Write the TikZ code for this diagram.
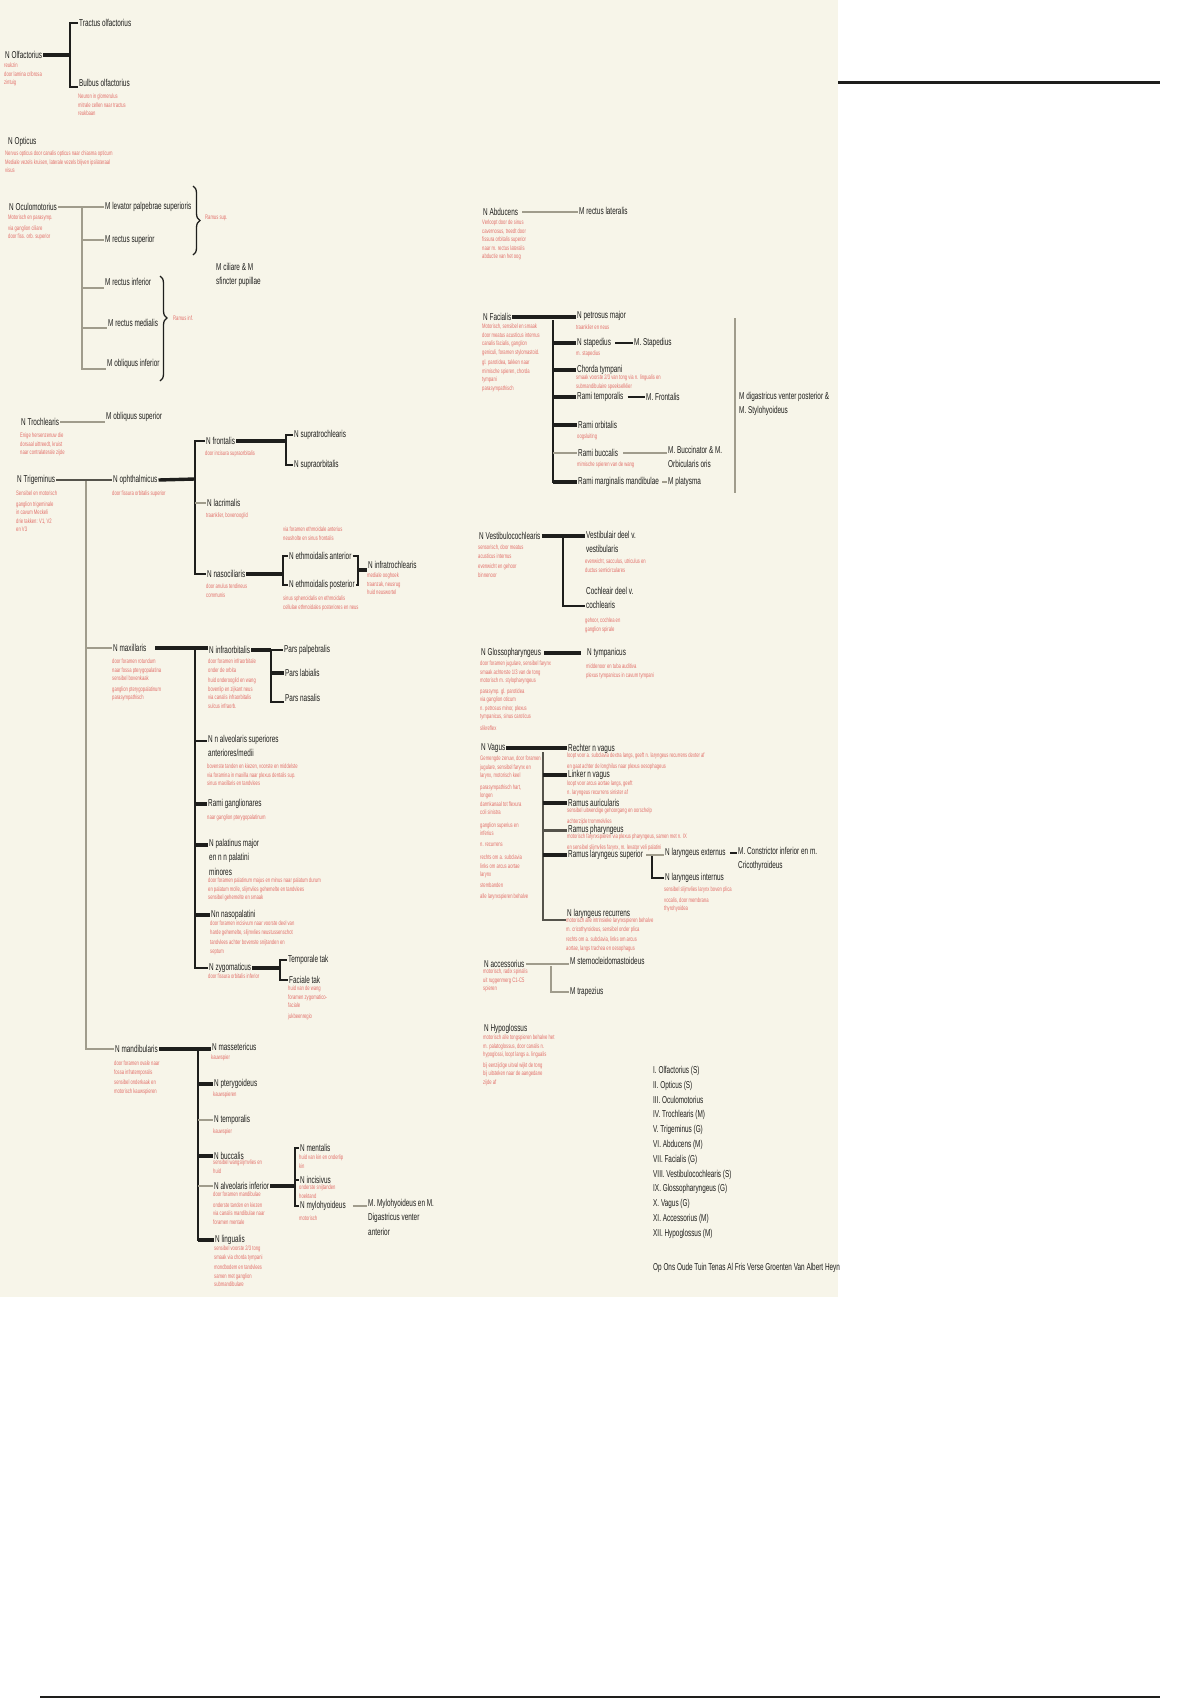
\documentclass[tikz,border=0pt]{standalone}
\usepackage{fontspec}
\setmainfont[FakeStretch=0.64]{Liberation Sans}
\usetikzlibrary{decorations.pathreplacing}

\definecolor{cream}{RGB}{247,245,233}
\definecolor{ink}{RGB}{30,30,28}
\definecolor{notered}{RGB}{226,112,106}
\definecolor{nervegray}{RGB}{160,156,140}
\definecolor{trunkgray}{RGB}{85,83,75}

\newcommand\lblfont{\fontsize{10}{14.5}\selectfont}
\newcommand\notefont{\fontsize{6.5}{8.5}\selectfont}

\tikzset{
  lbl/.style={anchor=west, inner xsep=1pt, inner ysep=0pt, font=\lblfont, text=ink, align=left},
  lblml/.style={lbl, anchor=north west},
  note/.style={anchor=north west, inner sep=0pt, font=\notefont, text=notered, align=left},
  bar/.style={draw=ink, line width=3.4pt},
  stem/.style={draw=ink, line width=2pt},
  graybar/.style={draw=nervegray, line width=2.6pt},
  graystem/.style={draw=nervegray, line width=1.8pt},
  graythin/.style={draw=nervegray, line width=1.2pt},
  trunk/.style={draw=trunkgray, line width=2pt},
  curly/.style={draw=ink, line width=1.3pt, decorate, decoration={brace, amplitude=7pt}},
}

\begin{document}
\begin{tikzpicture}[x=1pt, y=-1pt]
  \useasboundingbox (0,0) rectangle (1200,1700);
  \fill[white] (0,0) rectangle (1200,1700);
  \fill[cream] (0,0) rectangle (838,1297);

  \coordinate (ruleA) at (838,82);
  \coordinate (ruleB) at (1160,82);
  \draw[ink, line width=3pt] (ruleA) -- (ruleB);
  \coordinate (ruleC) at (40,1697);
  \coordinate (ruleD) at (1160,1697);
  \draw[ink, line width=2pt] (ruleC) -- (ruleD);

  \node[lbl] (olf) at (4,55) {N Olfactorius};
  \node[note] (olfn) at (4,63) {reukzin\\door lamina cribrosa\\zintuig};
  \node[lbl] (trac) at (78,23) {Tractus olfactorius};
  \node[lbl] (bulb) at (78,83) {Bulbus olfactorius};
  \node[note] (bulbn) at (78,94) {Neuron in glomerulus\\mitrale cellen naar tractus\\reukbaan};
  \coordinate (olfj) at (70,52);
  \draw[bar] (olf.east) -- (olf.east -| olfj);
  \draw[stem] (trac.west) -| (olfj) |- (bulb.south west);

  \node[lbl] (opt) at (7,142) {N Opticus};
  \node[note] (optn) at (5,151) {Nervus opticus door canalis opticus naar chiasma opticum\\Mediale vezels kruisen, laterale vezels blijven ipsilateraal\\visus};

  \node[lbl] (ocul) at (8,207) {N Oculomotorius};
  \node[note] (ocuin) at (8,215) {Motorisch en parasymp.\\[2pt]via ganglion ciliare\\door fiss. orb. superior};
  \node[lbl] (levp) at (104,207) {M levator palpebrae superioris};
  \node[lbl] (recs) at (104,240) {M rectus superior};
  \node[lbl] (reci) at (104,282) {M rectus inferior};
  \node[lbl] (recm) at (107,323) {M rectus medialis};
  \node[lbl] (obli) at (106,364) {M obliquus inferior};
  \coordinate (oculj) at (82,207);
  \coordinate (recit) at ([yshift=-6pt]reci.west);
  \coordinate (recmt) at ([yshift=-5pt]recm.west);
  \coordinate (oblit) at ([yshift=-5pt]obli.west);
  \draw[graybar] (ocul.east) -- (levp.west);
  \draw[graystem] (oculj) |- (oblit);
  \draw[graystem] (oculj |- recs.west) -- (recs.west);
  \draw[graystem] (oculj |- recit) -- (recit);
  \draw[graystem] (oculj |- recmt) -- (recmt);
  \coordinate (brAt) at (193,186);
  \coordinate (brAb) at (193,255);
  \draw[curly] (brAt) -- (brAb);
  \node[note, anchor=west] (brAl) at (205,218) {Ramus sup.};
  \coordinate (brBt) at (160,276);
  \coordinate (brBb) at (160,381);
  \draw[curly, decoration={brace, amplitude=7pt, aspect=0.4}] (brBt) -- (brBb);
  \node[note, anchor=west] (brBl) at (173,318) {Ramus inf.};
  \node[lblml] (cil) at (215,263) {M ciliare \& M\\sfincter pupillae};

  \node[lbl] (troc) at (20,422) {N Trochlearis};
  \node[note] (trocn) at (20,433) {Enige hersenzenuw die\\dorsaal uittreedt, kruist\\naar contralaterale zijde};
  \node[lbl] (obls) at (105,417) {M obliquus superior};
  \draw[graybar] (troc.east) -- (troc.east -| obls.west);

  \node[lbl] (trig) at (16,480) {N Trigeminus};
  \node[note] (trign) at (16,491) {Sensibel en motorisch\\[2pt]ganglion trigeminale\\in cavum Meckeli\\drie takken: V1, V2\\en V3};
  \node[lbl] (oph) at (112,480) {N ophthalmicus};
  \node[note] (ophn) at (112,491) {door fissura orbitalis superior};
  \coordinate (trigj) at (86,481);
  \draw[trunk, line width=2.6pt] (trig.east) -- (oph.west);

  \node[lbl] (front) at (205,441) {N frontalis};
  \node[note] (frontn) at (205,451) {door incisura supraorbitalis};
  \node[lbl] (supt) at (293,435) {N supratrochlearis};
  \node[lbl] (supo) at (293,465) {N supraorbitalis};
  \node[lbl] (lacr) at (206,503) {N lacrimalis};
  \node[note] (lacrn) at (206,513) {traanklier, bovenooglid};
  \node[note] (ethan) at (283,527) {via foramen ethmoidale anterius\\neusholte en sinus frontalis};
  \node[lbl] (nasc) at (206,574) {N nasociliaris};
  \node[note] (nascn) at (206,584) {door anulus tendineus\\communis};
  \node[lbl] (etha) at (288,556) {N ethmoidalis anterior};
  \node[lbl] (ethp) at (288,585) {N ethmoidalis posterior};
  \node[note] (ethpn) at (283,596) {sinus sphenoidalis en ethmoidalis\\cellulae ethmoidales posteriores en neus};
  \node[lbl] (infrt) at (367,565) {N infratrochlearis};
  \node[note] (infrtn) at (367,573) {mediale ooghoek\\traanzak, neusrug\\huid neuswortel};
  \coordinate (ophj) at (195,479);
  \draw[bar] (oph.east) -- (ophj);
  \draw[stem] (front.west) -| (ophj) |- (nasc.west);
  \draw[graystem] (ophj |- lacr.west) -- (lacr.west);
  \coordinate (frontj) at (286,441);
  \draw[bar] (front.east) -- (frontj);
  \draw[stem] (supt.west) -| (frontj) |- (supo.west);
  \coordinate (nascj) at (283,576);
  \draw[bar] (nasc.east) -- (nasc.east -| nascj);
  \draw[stem] (etha.west) -| (nascj) |- (ethp.west);
  \coordinate (ethj) at (358,570);
  \draw[stem] (etha.east) -| (ethj) |- (ethp.east);
  \draw[bar] (ethj) -- (ethj -| infrt.west);

  \node[lbl] (maxi) at (112,648) {N maxillaris};
  \node[note] (maxin) at (112,659) {door foramen rotundum\\naar fossa pterygopalatina\\sensibel bovenkaak\\[2pt]ganglion pterygopalatinum\\parasympathisch};
  \draw[graystem] (trigj |- maxi.west) -- (maxi.west);
  \coordinate (maxj) at (195,650);
  \coordinate (maxs) at ([xshift=8pt]maxi.east);
  \node[lbl] (infro) at (208,650) {N infraorbitalis};
  \draw[bar] (maxs) -- (maxs -| infro.west);
  \node[note] (infron) at (208,659) {door foramen infraorbitale\\onder de orbita\\[2pt]huid onderooglid en wang\\bovenlip en zijkant neus\\via canalis infraorbitalis\\sulcus infraorb.};
  \node[lbl] (parsp) at (283,650) {Pars palpebralis};
  \node[lbl] (parsl) at (284,673) {Pars labialis};
  \node[lbl] (parsn) at (284,698) {Pars nasalis};
  \coordinate (infj) at (271,652);
  \coordinate (parsnt) at ([yshift=-4pt]parsn.west);
  \draw[bar] (infro.east) -- (infro.east -| infj);
  \draw[stem] (parsp.west) -| (infj) |- (parsnt);
  \draw[bar] (infj |- parsl.west) -- (parsl.west);
  \node[lblml] (alvs) at (207,735) {N n alveolaris superiores\\anteriores/medii};
  \coordinate (alvst) at ([yshift=-6pt]alvs.north west);
  \draw[stem] (maxj |- alvst) -- (alvst);
  \node[note] (alvsn) at (207,764) {bovenste tanden en kiezen, voorste en middelste\\via foramina in maxilla naar plexus dentalis sup.\\sinus maxillaris en tandvlees};
  \node[lbl] (ramg) at (207,804) {Rami ganglionares};
  \node[note] (ramgn) at (207,815) {naar ganglion pterygopalatinum};
  \draw[bar] (maxj |- ramg.west) -- (ramg.west);
  \node[lblml] (palm) at (208,839) {N palatinus major\\en n n palatini\\minores};
  \coordinate (palmt) at ([yshift=-6pt]palm.north west);
  \draw[bar] (maxj |- palmt) -- (palmt);
  \node[note] (palmn) at (208,878) {door foramen palatinum majus en minus naar palatum durum\\en palatum molle, slijmvlies gehemelte en tandvlees\\sensibel gehemelte en smaak};
  \node[lbl] (nasp) at (210,915) {Nn nasopalatini};
  \draw[bar] (maxj |- nasp.west) -- (nasp.west);
  \node[note] (naspn) at (210,921) {door foramen incisivum naar voorste deel van\\harde gehemelte, slijmvlies neustussenschot\\[2pt]tandvlees achter bovenste snijtanden en\\septum};
  \node[lbl] (zyg) at (208,968) {N zygomaticus};
  \node[note] (zygn) at (208,974) {door fissura orbitalis inferior};
  \draw[stem] (maxj) |- (zyg.west);
  \node[lbl] (ztemp) at (287,960) {Temporale tak};
  \node[lbl] (zfac) at (288,980) {Faciale tak};
  \node[note] (zfacn) at (288,986) {huid van de wang\\foramen zygomatico-\\faciale\\[2pt]jukbeenregio};
  \coordinate (zygj) at (280,969);
  \draw[bar] (zyg.east) -- (zyg.east -| zygj);
  \draw[stem] (ztemp.west) -| (zygj) |- (zfac.west);

  \node[lbl] (mand) at (114,1049) {N mandibularis};
  \node[note] (mandn) at (114,1061) {door foramen ovale naar\\fossa infratemporalis\\[2pt]sensibel onderkaak en\\motorisch kauwspieren};
  \draw[graystem] (trigj) |- (mand.west);
  \coordinate (mandj) at (198,1049);
  \node[lbl] (mass) at (211,1047) {N massetericus};
  \node[note] (massn) at (211,1055) {kauwspier};
  \draw[bar] (mand.east) -- (mand.east -| mass.west);
  \node[lbl] (pter) at (213,1084) {N pterygoideus};
  \node[note] (ptern) at (213,1092) {kauwspieren};
  \node[lbl] (temp) at (213,1120) {N temporalis};
  \node[note] (tempn) at (213,1129) {kauwspier};
  \node[lbl] (bucc) at (213,1156) {N buccalis};
  \node[note] (buccn) at (213,1160) {sensibel wangslijmvlies en\\huid};
  \node[lbl] (alvi) at (213,1186) {N alveolaris inferior};
  \node[note] (alvin) at (213,1192) {door foramen mandibulae\\[2pt]onderste tanden en kiezen\\via canalis mandibulae naar\\foramen mentale};
  \node[lbl] (ling) at (214,1240) {N lingualis};
  \node[note] (lingn) at (214,1246) {sensibel voorste 2/3 tong\\smaak via chorda tympani\\[2pt]mondbodem en tandvlees\\samen met ganglion\\submandibulare};
  \draw[stem] (mandj) |- (ling.west);
  \draw[bar] (mandj |- pter.west) -- (pter.west);
  \draw[graystem] (mandj |- temp.west) -- (temp.west);
  \draw[bar] (mandj |- bucc.west) -- (bucc.west);
  \draw[graybar] (mandj |- alvi.west) -- (alvi.west);
  \draw[bar] (mandj |- ling.west) -- (ling.west);
  \node[lbl] (ment) at (299,1148) {N mentalis};
  \node[note] (mentn) at (299,1155) {huid van kin en onderlip\\kin};
  \node[lbl] (inci) at (299,1180) {N incisivus};
  \node[note] (incin) at (299,1185) {onderste snijtanden\\hoektand};
  \node[lbl] (mylo) at (299,1206) {N mylohyoideus};
  \node[note] (mylon) at (299,1216) {motorisch};
  \coordinate (alvij) at (295,1188);
  \draw[bar] (alvi.east) -- (alvi.east -| alvij);
  \draw[stem] (ment.west) -| (alvij) |- (mylo.west);
  \draw[stem] (alvij |- inci.west) -- (inci.west);
  \node[lblml] (mmylo) at (367,1199) {M. Mylohyoideus en M.\\Digastricus venter\\anterior};
  \coordinate (mylos) at ([xshift=6pt]mylo.east);
  \draw[graythin] (mylos) -- (mylos -| mmylo.west);

  \node[lbl] (abd) at (482,212) {N Abducens};
  \node[note] (abdn) at (482,220) {Verloopt door de sinus\\cavernosus, treedt door\\fissura orbitalis superior\\naar m. rectus lateralis\\abductie van het oog};
  \node[lbl] (mrl) at (578,211) {M rectus lateralis};
  \coordinate (abds) at ([xshift=3pt]abd.east);
  \draw[graybar] (abds) -- (abds -| mrl.west);

  \node[lbl] (fac) at (482,317) {N Facialis};
  \node[note] (facn) at (482,324) {Motorisch, sensibel en smaak\\door meatus acusticus internus\\canalis facialis, ganglion\\geniculi, foramen stylomastoid.\\[2pt]gl. parotidea, takken naar\\mimische spieren, chorda\\tympani\\parasympathisch};
  \node[lbl] (petr) at (576,316) {N petrosus major};
  \node[note] (petrn) at (576,325) {traanklier en neus};
  \node[lbl] (stap) at (576,343) {N stapedius};
  \node[note] (stapn) at (576,351) {m. stapedius};
  \node[lbl] (mstap) at (633,343) {M. Stapedius};
  \node[lbl] (chor) at (576,370) {Chorda tympani};
  \node[note] (chorn) at (576,375) {smaak voorste 2/3 van tong via n. lingualis en\\submandibulaire speekselklier};
  \node[lbl] (rtemp) at (576,397) {Rami temporalis};
  \node[lbl] (mfront) at (645,397) {M. Frontalis};
  \node[lbl] (rorb) at (577,425) {Rami orbitalis};
  \node[note] (rorbn) at (577,434) {oogsluiting};
  \node[lbl] (rbuc) at (577,453) {Rami buccalis};
  \node[note] (rbucn) at (577,462) {mimische spieren van de wang};
  \node[lblml] (mbuc) at (667,446) {M. Buccinator \& M.\\Orbicularis oris};
  \node[lbl] (rmarg) at (577,482) {Rami marginalis mandibulae};
  \node[lbl] (mplat) at (667,482) {M platysma};
  \coordinate (facj) at (553,320);
  \draw[bar] (fac.east) -- (fac.east -| petr.west);
  \draw[stem] (facj) |- (rmarg.west);
  \draw[bar] (facj |- stap.west) -- (stap.west);
  \draw[bar] (facj |- chor.west) -- (chor.west);
  \draw[bar] (facj |- rtemp.west) -- (rtemp.west);
  \draw[bar] (facj |- rorb.west) -- (rorb.west);
  \draw[graybar] (facj |- rbuc.west) -- (rbuc.west);
  \draw[bar] (facj |- rmarg.west) -- (rmarg.west);
  \coordinate (staps) at ([xshift=3pt]stap.east);
  \coordinate (rtemps) at ([xshift=3pt]rtemp.east);
  \coordinate (rbucs) at ([xshift=4pt]rbuc.east);
  \coordinate (rmargs) at ([xshift=2pt]rmarg.east);
  \draw[stem] (staps) -- (staps -| mstap.west);
  \draw[stem] (rtemps) -- (rtemps -| mfront.west);
  \draw[graythin] (rbucs) -- (rbucs -| mbuc.west);
  \draw[graythin] (rmargs) -- (rmargs -| mplat.west);
  \coordinate (digt) at (735,318);
  \coordinate (digb) at (735,493);
  \draw[graythin] (digt) -- (digb);
  \node[lblml] (mdig) at (738,392) {M digastricus venter posterior \&\\M. Stylohyoideus};

  \node[lbl] (vest) at (478,536) {N Vestibulocochlearis};
  \node[note] (vestn) at (478,545) {sensorisch, door meatus\\acusticus internus\\[2pt]evenwicht en gehoor\\binnenoor};
  \node[lblml] (vdeel) at (585,531) {Vestibulair deel v.\\vestibularis};
  \node[note] (vdeeln) at (585,559) {evenwicht, sacculus, utriculus en\\ductus semicirculares};
  \node[lblml] (cdeel) at (585,587) {Cochleair deel v.\\cochlearis};
  \node[note] (cdeeln) at (585,618) {gehoor, cochlea en\\ganglion spirale};
  \coordinate (vestj) at (563,537);
  \coordinate (cdeelt) at ([yshift=3pt]cdeel.south west);
  \draw[bar] (vest.east) -- (vest.east -| vdeel.west);
  \draw[stem] (vestj) |- (cdeelt);

  \node[lbl] (glos) at (480,653) {N Glossopharyngeus};
  \node[note] (glosn) at (480,661) {door foramen jugulare, sensibel farynx\\smaak achterste 1/3 van de tong\\motorisch m. stylopharyngeus\\[2pt]parasymp. gl. parotidea\\via ganglion oticum\\n. petrosus minor, plexus\\tympanicus, sinus caroticus\\[3pt]slikreflex};
  \node[lbl] (tymp) at (586,653) {N tympanicus};
  \node[note] (tympn) at (586,664) {middenoor en tuba auditiva\\plexus tympanicus in cavum tympani};
  \coordinate (gloss) at ([xshift=2pt]glos.east);
  \coordinate (tympe) at ([xshift=-5pt]tymp.west);
  \draw[bar] (gloss) -- (gloss -| tympe);

  \node[lbl] (vag) at (480,748) {N Vagus};
  \node[note] (vagn) at (480,756) {Gemengde zenuw, door foramen\\jugulare, sensibel farynx en\\larynx, motorisch keel\\[3pt]parasympathisch hart,\\longen\\darmkanaal tot flexura\\coli sinistra\\[4pt]ganglion superius en\\inferius\\[2pt]n. recurrens\\[5pt]rechts om a. subclavia\\links om arcus aortae\\larynx\\[2pt]stembanden\\[3pt]alle larynxspieren behalve};
  \node[lbl] (rvag) at (567,749) {Rechter n vagus};
  \node[note] (rvagn) at (567,753) {loopt voor a. subclavia dextra langs, geeft n. laryngeus recurrens dexter af\\[2pt]en gaat achter de longhilus naar plexus oesophageus};
  \node[lbl] (lvag) at (567,775) {Linker n vagus};
  \node[note] (lvagn) at (567,781) {loopt voor arcus aortae langs, geeft\\n. laryngeus recurrens sinister af};
  \node[lbl] (raur) at (567,803) {Ramus auricularis};
  \node[note] (raurn) at (567,808) {sensibel uitwendige gehoorgang en oorschelp\\[2pt]achterzijde trommelvlies};
  \node[lbl] (rphar) at (567,830) {Ramus pharyngeus};
  \node[note] (rpharn) at (567,834) {motorisch farynxspieren via plexus pharyngeus, samen met n. IX\\[2pt]en sensibel slijmvlies farynx, m. levator veli palatini};
  \node[lbl] (rlars) at (567,855) {Ramus laryngeus superior};
  \node[lbl] (lext) at (664,853) {N laryngeus externus};
  \node[lblml] (mcric) at (737,847) {M. Constrictor inferior en m.\\Cricothyroideus};
  \node[lbl] (lint) at (664,878) {N laryngeus internus};
  \node[note] (lintn) at (664,887) {sensibel slijmvlies larynx boven plica\\[2pt]vocalis, door membrana\\thyrohyoidea};
  \node[lbl] (lrec) at (566,914) {N laryngeus recurrens};
  \node[note] (lrecn) at (566,918) {motorisch alle intrinsieke larynxspieren behalve\\m. cricothyroideus, sensibel onder plica\\[2pt]rechts om a. subclavia, links om arcus\\aortae, langs trachea en oesophagus};
  \coordinate (vagj) at (543,752);
  \coordinate (lrect) at ([yshift=-6pt]lrec.west);
  \draw[bar] (vag.east) -- (vag.east -| rvag.west);
  \draw[trunk] (vagj) |- (lrect);
  \draw[bar] (vagj |- lvag.west) -- (lvag.west);
  \draw[bar] (vagj |- raur.west) -- (raur.west);
  \draw[trunk, line width=3pt] (vagj |- rphar.west) -- (rphar.west);
  \draw[bar] (vagj |- rlars.west) -- (rlars.west);
  \coordinate (larj) at (652,856);
  \coordinate (rlarss) at ([xshift=2pt]rlars.east);
  \coordinate (lexts) at ([xshift=3pt]lext.east);
  \draw[graybar] (rlarss) -- (rlarss -| lext.west);
  \draw[stem] (larj) |- (lint.west);
  \draw[stem] (lexts) -- (lexts -| mcric.west);

  \node[lbl] (acc) at (483,964) {N accessorius};
  \node[note] (accn) at (483,969) {motorisch, radix spinalis\\uit ruggenmerg C1-C5\\spieren};
  \node[lbl] (mscm) at (569,961) {M sternocleidomastoideus};
  \node[lbl] (mtrap) at (569,992) {M trapezius};
  \coordinate (accj) at (551,966);
  \draw[graybar] (acc.east) -- (acc.east -| mscm.west);
  \draw[graystem] (accj) |- (mtrap.west);

  \node[lbl] (hyp) at (483,1029) {N Hypoglossus};
  \node[note] (hypn) at (483,1035) {motorisch alle tongspieren behalve het\\m. palatoglossus, door canalis n.\\hypoglossi, loopt langs a. lingualis\\[2pt]bij eenzijdige uitval wijkt de tong\\bij uitsteken naar de aangedane\\zijde af};

  \node[lblml, font=\fontsize{10}{14.8}\selectfont] (list) at (652,1066) {I. Olfactorius (S)\\II. Opticus (S)\\III. Oculomotorius\\IV. Trochlearis (M)\\V. Trigeminus (G)\\VI. Abducens (M)\\VII. Facialis (G)\\VIII. Vestibulocochlearis (S)\\IX. Glossopharyngeus (G)\\X. Vagus (G)\\XI. Accessorius (M)\\XII. Hypoglossus (M)};
  \node[lbl] (mnem) at (652,1268) {Op Ons Oude Tuin Tenas Al Fris Verse Groenten Van Albert Heyn};
\end{tikzpicture}
\end{document}
